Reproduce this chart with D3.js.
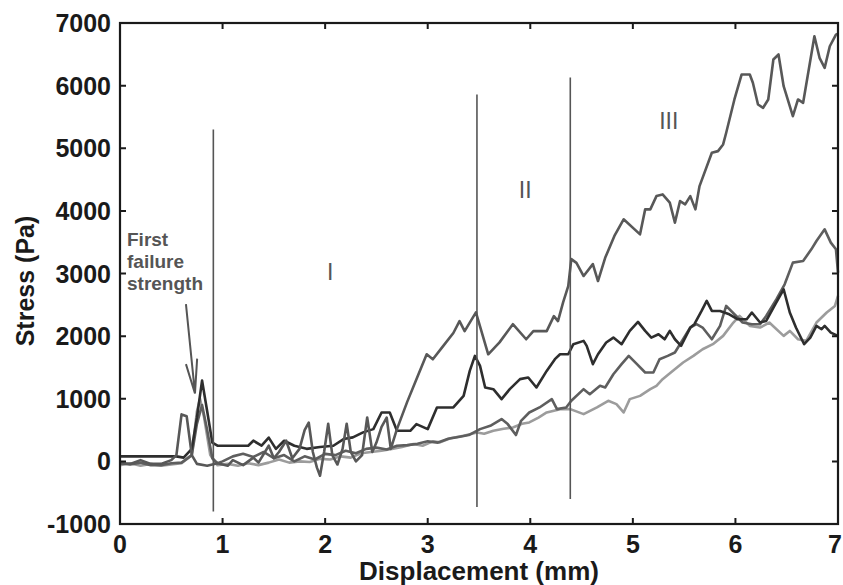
<!DOCTYPE html>
<html>
<head>
<meta charset="utf-8">
<script src="https://cdn.jsdelivr.net/npm/d3@7/dist/d3.min.js"></script>
<style>
  html, body { margin: 0; padding: 0; background: #fff; }
  svg { display: block; font-family: "Liberation Sans", Arial, sans-serif; }
</style>
</head>
<body>
<div id="chart"></div>
<script>
// tick values
const xTicks = [0, 1, 2, 3, 4, 5, 6, 7];
const yTicks = [-1000, 0, 1000, 2000, 3000, 4000, 5000, 6000, 7000];

// four specimens, [displacement mm, stress Pa]
const seriesA = [
  [0, -30], [0.1, -40], [0.2, 20], [0.3, -40], [0.4, -40], [0.5, 20], [0.55, 100], [0.6, 750],
  [0.65, 720], [0.7, 100], [0.75, -40], [0.85, -70], [0.95, -30], [1.05, -70], [1.1, 20], [1.2, -60],
  [1.3, 60], [1.35, -20], [1.45, 250], [1.5, 50], [1.55, 150], [1.62, 330], [1.68, 50], [1.75, 200],
  [1.8, 500], [1.84, 620], [1.88, 150], [1.92, -100], [1.95, -230], [1.99, 150], [2.03, 600], [2.07, 100],
  [2.12, -50], [2.17, 200], [2.21, 600], [2.25, 150], [2.3, 0], [2.36, 100], [2.41, 700], [2.46, 150],
  [2.5, 300], [2.55, 550], [2.6, 700], [2.64, 200], [2.7, 515], [2.8, 950], [2.9, 1350], [2.99, 1710],
  [3.05, 1630], [3.15, 1840], [3.25, 2050], [3.31, 2240], [3.36, 2080], [3.47, 2380], [3.59, 1710], [3.7, 1900],
  [3.83, 2190], [3.96, 1950], [4.03, 2080], [4.16, 2080], [4.23, 2320], [4.27, 2240], [4.32, 2540], [4.37, 2800],
  [4.4, 3230], [4.45, 3170], [4.52, 2960], [4.61, 3150], [4.66, 2880], [4.73, 3250], [4.82, 3600], [4.91, 3865],
  [5.07, 3625], [5.12, 4024], [5.17, 4024], [5.23, 4236], [5.29, 4263], [5.36, 4131], [5.41, 3812], [5.46, 4157],
  [5.51, 4104], [5.56, 4236], [5.61, 4024], [5.65, 4396], [5.77, 4928], [5.83, 4954], [5.88, 5061], [5.91, 5247],
  [5.99, 5779], [6.06, 6177], [6.14, 6177], [6.17, 6045], [6.22, 5699], [6.27, 5646], [6.32, 5779], [6.37, 6417],
  [6.42, 6497], [6.47, 5991], [6.56, 5512], [6.61, 5779], [6.66, 5726], [6.77, 6789], [6.82, 6444], [6.87, 6284],
  [6.92, 6629], [6.98, 6815], [7, 6830]
];
const seriesB = [
  [0, 80], [0.2, 80], [0.4, 80], [0.55, 80], [0.62, 60], [0.7, 200], [0.75, 700], [0.8, 1290],
  [0.85, 800], [0.9, 300], [0.95, 250], [1.05, 250], [1.15, 250], [1.25, 250], [1.3, 330], [1.38, 250],
  [1.45, 380], [1.52, 200], [1.6, 330], [1.7, 250], [1.82, 200], [1.95, 230], [2.08, 250], [2.18, 356],
  [2.27, 383], [2.37, 463], [2.47, 515], [2.55, 781], [2.63, 781], [2.7, 488], [2.83, 488], [2.89, 595],
  [3, 515], [3.09, 861], [3.25, 861], [3.35, 1046], [3.41, 1445], [3.46, 1684], [3.51, 1525], [3.56, 1180],
  [3.64, 1153], [3.72, 994], [3.8, 1153], [3.9, 1313], [3.98, 1340], [4.06, 1180], [4.16, 1445], [4.24, 1632],
  [4.29, 1711], [4.37, 1711], [4.42, 1871], [4.52, 1924], [4.55, 1844], [4.61, 1552], [4.66, 1711], [4.74, 1898],
  [4.81, 1977], [4.89, 1871], [4.97, 2083], [5.05, 2227], [5.12, 2083], [5.18, 1977], [5.25, 2030], [5.31, 1950],
  [5.36, 2083], [5.41, 1950], [5.47, 1844], [5.56, 2137], [5.6, 2190], [5.67, 2402], [5.72, 2562], [5.77, 2402],
  [5.85, 2402], [5.94, 2349], [6.02, 2270], [6.11, 2270], [6.16, 2377], [6.24, 2217], [6.3, 2243], [6.38, 2482],
  [6.47, 2748], [6.53, 2377], [6.59, 2137], [6.67, 1871], [6.73, 1977], [6.79, 2163], [6.84, 2110], [6.87, 2163],
  [6.93, 2057], [7, 2004]
];
const seriesC = [
  [0, -30], [0.1, -50], [0.2, -20], [0.3, -60], [0.4, -60], [0.5, -30], [0.6, -20], [0.7, 100],
  [0.75, 600], [0.8, 900], [0.85, 500], [0.9, 50], [0.95, -30], [1, 0], [1.1, 80], [1.2, 120],
  [1.3, 70], [1.4, 150], [1.5, 50], [1.6, 100], [1.7, 0], [1.8, 80], [1.9, 30], [2, 120],
  [2.1, 100], [2.2, 170], [2.3, 130], [2.4, 200], [2.5, 220], [2.6, 190], [2.7, 250], [2.8, 260],
  [2.9, 280], [3, 320], [3.1, 300], [3.2, 360], [3.3, 390], [3.4, 420], [3.51, 515], [3.61, 568],
  [3.72, 675], [3.78, 595], [3.86, 420], [3.91, 648], [3.99, 781], [4.09, 861], [4.21, 994], [4.26, 834],
  [4.35, 861], [4.4, 967], [4.52, 1153], [4.58, 1073], [4.68, 1206], [4.73, 1180], [4.81, 1392], [4.89, 1552],
  [4.96, 1684], [5.04, 1552], [5.12, 1419], [5.2, 1419], [5.26, 1632], [5.34, 1684], [5.41, 1738], [5.47, 1898],
  [5.56, 2137], [5.62, 2190], [5.68, 2137], [5.77, 1950], [5.85, 2163], [5.91, 2482], [5.99, 2349], [6.07, 2217],
  [6.16, 2190], [6.24, 2190], [6.3, 2322], [6.4, 2589], [6.48, 2828], [6.56, 3174], [6.66, 3200], [6.74, 3386],
  [6.79, 3519], [6.87, 3705], [6.93, 3493], [6.98, 3386], [7, 3015]
];
const seriesD = [
  [0, -60], [0.1, -30], [0.2, -70], [0.3, -40], [0.4, -70], [0.5, -50], [0.6, -30], [0.7, 100],
  [0.75, 800], [0.78, 1000], [0.82, 700], [0.88, 100], [0.95, -60], [1.05, -40], [1.15, -70], [1.25, -30],
  [1.35, -60], [1.45, -20], [1.55, 30], [1.65, -20], [1.75, 0], [1.85, -10], [1.95, 40], [2.05, 30],
  [2.15, 80], [2.25, 60], [2.35, 130], [2.45, 150], [2.55, 170], [2.65, 200], [2.75, 230], [2.86, 276],
  [2.95, 250], [3.05, 320], [3.12, 303], [3.22, 370], [3.35, 408], [3.48, 462], [3.55, 440], [3.64, 488],
  [3.74, 520], [3.83, 542], [3.92, 600], [3.99, 622], [4.08, 700], [4.16, 781], [4.29, 834], [4.39, 834],
  [4.52, 754], [4.65, 861], [4.76, 967], [4.84, 914], [4.91, 781], [4.97, 994], [5.07, 1046], [5.17, 1153],
  [5.23, 1206], [5.29, 1313], [5.37, 1419], [5.49, 1579], [5.59, 1684], [5.68, 1791], [5.78, 1871], [5.88, 2004],
  [5.98, 2217], [6.04, 2322], [6.14, 2163], [6.24, 2137], [6.33, 2217], [6.47, 2004], [6.53, 2083], [6.61, 1950],
  [6.69, 1924], [6.79, 2217], [6.89, 2377], [6.97, 2482], [7, 2641]
];

// stage boundaries [x, bottom, top] and stage labels [text, x, y]
const boundaries = [[0.91, -800, 5300], [3.48, -730, 5860], [4.39, -600, 6130]];
const stageLabels = [['I', 2.05, 2900], ['II', 3.95, 4200], ['III', 5.35, 5300]];

const width = 843, height = 585;
const margin = { top: 23, right: 5, bottom: 61, left: 120 };

const svg = d3.select('#chart').append('svg')
  .attr('width', width)
  .attr('height', height);

const x = d3.scaleLinear().domain([0, 7]).range([margin.left, width - margin.right]);
const y = d3.scaleLinear().domain([-1000, 7000]).range([height - margin.bottom, margin.top]);

const line = d3.line().x(d => x(d[0])).y(d => y(d[1]));

// data lines, lightest first
const series = [
  { data: seriesD, color: '#9c9c9c' },
  { data: seriesC, color: '#5e5e5e' },
  { data: seriesB, color: '#2e2e2e' },
  { data: seriesA, color: '#585858' }
];
svg.append('g').selectAll('path')
  .data(series)
  .join('path')
  .attr('d', d => line(d.data))
  .attr('fill', 'none')
  .attr('stroke', d => d.color)
  .attr('stroke-width', 2.6)
  .attr('stroke-linejoin', 'round');

// vertical stage boundaries
svg.append('g').selectAll('line')
  .data(boundaries)
  .join('line')
  .attr('x1', d => x(d[0])).attr('x2', d => x(d[0]))
  .attr('y1', d => y(d[1])).attr('y2', d => y(d[2]))
  .attr('stroke', '#555')
  .attr('stroke-width', 1.6);

svg.append('g').selectAll('text')
  .data(stageLabels)
  .join('text')
  .attr('x', d => x(d[1])).attr('y', d => y(d[2]))
  .attr('text-anchor', 'middle')
  .attr('font-size', 23)
  .attr('fill', '#555')
  .text(d => d[0]);

// annotation with arrow
const note = svg.append('text')
  .attr('font-size', 19)
  .attr('font-weight', 'bold')
  .attr('fill', '#555');
['First', 'failure', 'strength'].forEach((t, i) => {
  note.append('tspan').attr('x', 127).attr('y', 246 + i * 22).text(t);
});
const arrowPts = [[0.643, 2510], [0.731, 1085]];
const arrowHead = [[0.643, 1553], [0.731, 1085], [0.752, 1640]];
svg.append('path')
  .attr('d', line(arrowPts) + line(arrowHead))
  .attr('fill', 'none')
  .attr('stroke', '#555')
  .attr('stroke-width', 2);

// frame with inward ticks on all four sides
const tickLen = 6;
const frame = svg.append('g').attr('stroke', '#1a1a1a');
frame.append('rect')
  .attr('x', x(0)).attr('y', y(7000))
  .attr('width', x(7) - x(0)).attr('height', y(-1000) - y(7000))
  .attr('fill', 'none')
  .attr('stroke-width', 2.2);
frame.selectAll('.xt')
  .data(xTicks.slice(1, -1))
  .join('path')
  .attr('d', d => `M${x(d)},${y(-1000)}v${-tickLen}M${x(d)},${y(7000)}v${tickLen}`)
  .attr('stroke-width', 2);
frame.selectAll('.yt')
  .data(yTicks.slice(1, -1))
  .join('path')
  .attr('d', d => `M${x(0)},${y(d)}h${tickLen}M${x(7)},${y(d)}h${-tickLen}`)
  .attr('stroke-width', 2);

// tick labels
svg.append('g').selectAll('text')
  .data(xTicks)
  .join('text')
  .attr('x', d => x(d) - (d === 7 ? 3 : 0))
  .attr('y', y(-1000) + 29)
  .attr('text-anchor', 'middle')
  .attr('font-size', 25)
  .attr('font-weight', 'bold')
  .attr('fill', '#1a1a1a')
  .text(d => d);

svg.append('g').selectAll('text')
  .data(yTicks)
  .join('text')
  .attr('x', x(0) - 9)
  .attr('y', d => y(d) + 9)
  .attr('text-anchor', 'end')
  .attr('font-size', 25)
  .attr('font-weight', 'bold')
  .attr('fill', '#1a1a1a')
  .text(d => String(d));

// axis titles
svg.append('text')
  .attr('x', (x(0) + x(7)) / 2)
  .attr('y', 580)
  .attr('text-anchor', 'middle')
  .attr('font-size', 26)
  .attr('font-weight', 'bold')
  .attr('fill', '#1a1a1a')
  .text('Displacement (mm)');

svg.append('text')
  .attr('transform', 'translate(34,281) rotate(-90)')
  .attr('text-anchor', 'middle')
  .attr('font-size', 25)
  .attr('font-weight', 'bold')
  .attr('fill', '#1a1a1a')
  .text('Stress (Pa)');
</script>
</body>
</html>
